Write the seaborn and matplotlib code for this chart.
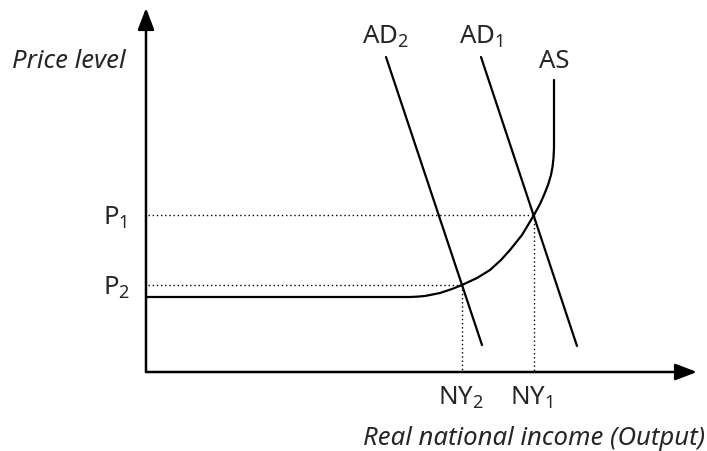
import matplotlib
matplotlib.use("Agg")
import matplotlib.pyplot as plt
import seaborn as sns
import pandas as pd

# ---- data (diagram units: origin at the axes corner) ----
as_output = [0, 264, 272, 279, 294, 306, 316, 331, 344, 355, 364, 376, 388,
             394, 398, 402, 405, 406.5, 407.5, 408, 408]
as_price = [75, 75, 75.4, 76, 79, 83, 87, 94, 102, 112, 122, 137, 157,
            168, 177, 187, 197, 205, 214, 224, 292]
ad1_output = [335, 431]
ad1_price = [315, 26]
ad2_output = [240, 336]
ad2_price = [315, 27]
price_levels = [157, 87]          # P1, P2
price_labels = ["P$_1$", "P$_2$"]
income_levels = [388, 316]        # NY1, NY2
income_labels = ["NY$_1$", "NY$_2$"]
x_axis_end = 551
y_axis_end = 364

sns.set_theme(style="white")
plt.rcParams["font.family"] = ["Noto Sans", "DejaVu Sans"]
plt.rcParams["mathtext.fontset"] = "custom"
plt.rcParams["mathtext.rm"] = "Noto Sans"
plt.rcParams["mathtext.it"] = "Noto Sans:italic"

fig = plt.figure(figsize=(7.07, 4.51), dpi=100)
ax = fig.add_axes([0, 0, 1, 1])
ax.set_xlim(-146, 561)
ax.set_ylim(-79, 372)
ax.axis("off")

fs = 18.5
lw = 1.6

# AS curve and AD lines
sns.lineplot(data=pd.DataFrame({"x": as_output, "y": as_price}), x="x", y="y",
             sort=False, estimator=None, color="black", lw=lw, ax=ax)
sns.lineplot(data=pd.DataFrame({"x": ad1_output, "y": ad1_price}), x="x", y="y",
             sort=False, estimator=None, color="black", lw=lw, ax=ax)
sns.lineplot(data=pd.DataFrame({"x": ad2_output, "y": ad2_price}), x="x", y="y",
             sort=False, estimator=None, color="black", lw=lw, ax=ax)

# dotted guides
for p, q in zip(price_levels, income_levels):
    ax.plot([2, q], [p, p], color="black", lw=1.0, linestyle=(0, (1, 2)))
    ax.plot([q, q], [p, 0], color="black", lw=1.0, linestyle=(0, (1, 2)))

# axes with arrows
arrow = dict(arrowstyle="-|>,head_length=1.1,head_width=0.42", lw=1.8,
             color="black", shrinkA=0, shrinkB=0)
ax.annotate("", xy=(0, y_axis_end), xytext=(0, 0), arrowprops=arrow)
ax.annotate("", xy=(x_axis_end, 0), xytext=(0, 0), arrowprops=arrow)

# labels
ax.text(-134, 304, "Price level", fontsize=fs, style="italic", ha="left", va="baseline")
ax.text(559, -73, "Real national income (Output)", fontsize=fs, style="italic",
        ha="right", va="baseline")
ax.text(216, 328, "AD$_2$", fontsize=fs, ha="left", va="baseline")
ax.text(313, 328, "AD$_1$", fontsize=fs, ha="left", va="baseline")
ax.text(393, 304, "AS", fontsize=fs, ha="left", va="baseline")
for p, lab in zip(price_levels, price_labels):
    ax.text(-43, p - 10, lab, fontsize=fs, ha="left", va="baseline")
for q, lab in zip(income_levels, income_labels):
    ax.text(q - 24, -33, lab, fontsize=fs, ha="left", va="baseline")

fig.savefig("out.png", dpi=100)
